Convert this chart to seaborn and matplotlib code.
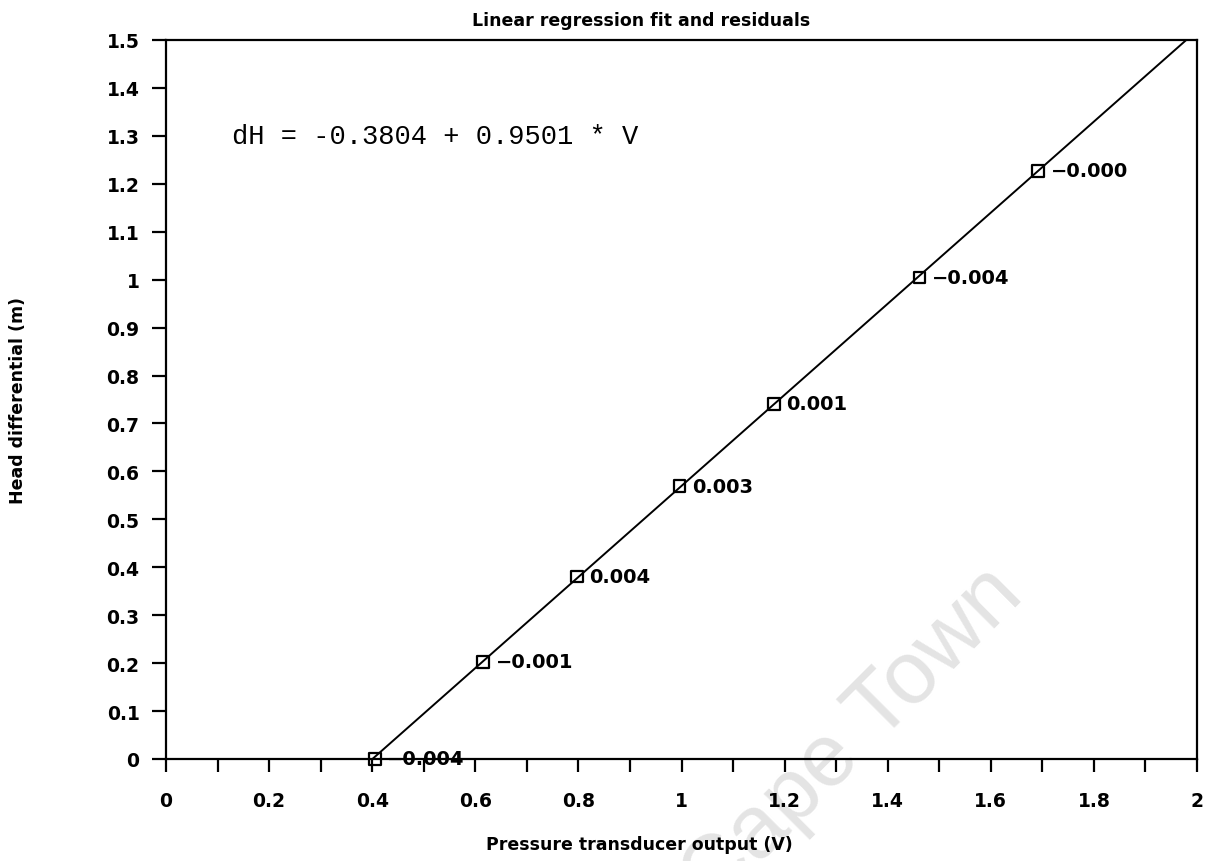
import numpy as np
import pandas as pd
import matplotlib
matplotlib.use("Agg")
import matplotlib.pyplot as plt
import seaborn as sns

# Calibration readings: transducer voltage and residual about the fitted line
voltage = [0.405, 0.615, 0.797, 0.996, 1.179, 1.462, 1.692]
residual = [-0.004, -0.001, 0.004, 0.003, 0.001, -0.004, -0.0004]

# Regression coefficients: dH = a + b * V
intercept = -0.3804
slope = 0.9501

x_ticks = [0, 0.2, 0.4, 0.6, 0.8, 1, 1.2, 1.4, 1.6, 1.8, 2]
x_minor = [0.1, 0.3, 0.5, 0.7, 0.9, 1.1, 1.3, 1.5, 1.7, 1.9]
y_ticks = [0, 0.1, 0.2, 0.3, 0.4, 0.5, 0.6, 0.7, 0.8, 0.9, 1, 1.1, 1.2, 1.3, 1.4, 1.5]

title = "Linear regression fit and residuals"
x_label = "Pressure transducer output (V)"
y_label = "Head differential (m)"

sns.set_style("ticks")
plt.rcParams["font.family"] = ["DejaVu Sans"]
plt.rcParams["text.color"] = "black"
plt.rcParams["axes.labelcolor"] = "black"
plt.rcParams["xtick.color"] = "black"
plt.rcParams["ytick.color"] = "black"

df = pd.DataFrame({"V": voltage, "resid": residual})
df["dH"] = intercept + slope * df["V"] + df["resid"]

fig = plt.figure(figsize=(12.12, 8.62), dpi=100)
ax = fig.add_axes([166 / 1212, 1 - 760 / 862, (1197 - 166) / 1212, (760 - 41) / 862])
ax.set_facecolor("none")
ax.set_zorder(1)

# fitted line across the whole axis range
line_x = np.array([x_ticks[0], x_ticks[-1]])
fit = pd.DataFrame({"V": line_x, "dH": intercept + slope * line_x})
sns.lineplot(data=fit, x="V", y="dH", color="black", linewidth=1.4, ax=ax)

sns.scatterplot(data=df, x="V", y="dH", marker="s", s=70, facecolors="none",
                edgecolors="black", linewidths=1.6, ax=ax, zorder=3, clip_on=False)

for v, h, r in zip(df["V"], df["dH"], df["resid"]):
    ax.annotate(f"{r:.3f}".replace("-", "\u2212"), (v, h), xytext=(9, 0),
                textcoords="offset points", va="center", ha="left",
                fontsize=14, fontweight="bold", color="black", zorder=4)

ax.text(0.128, 1.30, f"dH = {intercept:.4f} + {slope:.4f} * V",
        family="Liberation Mono", fontsize=19.5, va="center", ha="left",
        color="black")

ax.set_xlim(x_ticks[0], x_ticks[-1])
ax.set_ylim(y_ticks[0], y_ticks[-1])
ax.set_xticks(x_ticks)
ax.set_xticks(x_minor, minor=True)
ax.set_xticklabels([f"{t:g}" for t in x_ticks])
ax.set_yticks(y_ticks)
ax.set_yticklabels([f"{t:g}" for t in y_ticks])

ax.tick_params(axis="x", which="both", direction="out", length=9, width=1.6,
               pad=14, labelsize=13.5)
ax.tick_params(axis="y", which="both", direction="out", length=10, width=1.6,
               pad=9, labelsize=13.5)
for lbl in ax.get_xticklabels() + ax.get_yticklabels():
    lbl.set_fontweight("bold")

for side in ["left", "right", "top", "bottom"]:
    ax.spines[side].set_visible(True)
    ax.spines[side].set_linewidth(1.6)
    ax.spines[side].set_color("black")

ax.set_xlabel(x_label, fontsize=12.5, fontweight="bold", va="top")
ax.xaxis.set_label_coords((639 - 166) / 1031, -(836 - 760) / 719)
ax.set_ylabel(y_label, fontsize=12.5, fontweight="bold")
ax.yaxis.set_label_coords((27 - 166) / 1031, 0.5)

fig.text(641 / 1212, 1 - 21 / 862, title, ha="center", va="center",
         fontsize=12.5, fontweight="bold")

# faint diagonal watermark behind the plot
fig.text(1026 / 1212, 1 - 598 / 862, "Cape Town", ha="right", va="baseline",
         rotation=45, rotation_mode="anchor", fontsize=64, color="#e4e4e4",
         family="Liberation Sans", zorder=0)

fig.savefig("out.png", dpi=100)
